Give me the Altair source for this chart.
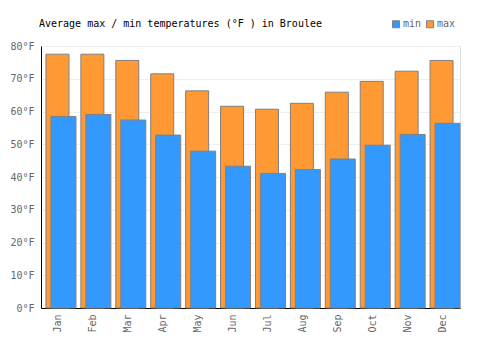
import altair as alt
import pandas as pd

months = ["Jan", "Feb", "Mar", "Apr", "May", "Jun", "Jul", "Aug", "Sep", "Oct", "Nov", "Dec"]
max_temps = [77.5, 77.5, 75.6, 71.5, 66.3, 61.6, 60.7, 62.5, 65.9, 69.2, 72.3, 75.6]
min_temps = [58.5, 59.1, 57.4, 52.8, 47.9, 43.3, 41.1, 42.3, 45.5, 49.7, 53.0, 56.4]
title_text = ["Average max / min temperatures (°F ) in Broulee"]

rows = []
for m, v in zip(months, max_temps):
    rows.append({"month": m, "type": "max", "value": v})
for m, v in zip(months, min_temps):
    rows.append({"month": m, "type": "min", "value": v})
df = pd.DataFrame(rows)

FONT = "DejaVu Sans Mono"

color = alt.Color(
    "type:N",
    scale=alt.Scale(domain=["min", "max"], range=["#3399ff", "#ff9933"]),
    legend=alt.Legend(
        title=None,
        orient="none",
        legendX=350,
        legendY=-27,
        direction="horizontal",
        symbolType="square",
        symbolSize=49,
        symbolStrokeColor="#808080",
        symbolStrokeWidth=1,
        labelFont=FONT,
        labelFontSize=10,
        labelColor="#666666",
        labelOffset=2,
        columnPadding=2,
        symbolOffset=0,
        padding=0,
    ),
)

x = alt.X(
    "month:N",
    sort=months,
    title=None,
    scale=alt.Scale(paddingInner=0, paddingOuter=0),
    axis=alt.Axis(
        labelAngle=270,
        labelAlign="right",
        labelBaseline="middle",
        labelPadding=6,
        ticks=False,
        domainColor="#000000",
        gridColor="#eeeeee",
        bandPosition=0,
        labelFont=FONT,
        labelFontSize=10,
        labelColor="#666666",
    ),
)

y = alt.Y(
    "value:Q",
    title=None,
    scale=alt.Scale(domain=[0, 80], nice=False),
    axis=alt.Axis(
        values=[0, 10, 20, 30, 40, 50, 60, 70, 80],
        labelExpr="datum.value + '°F'",
        ticks=False,
        labelPadding=7,
        domainColor="#000000",
        gridColor="#eeeeee",
        labelFont=FONT,
        labelFontSize=10,
        labelColor="#666666",
    ),
)

max_layer = alt.Chart(df).transform_filter("datum.type == 'max'").mark_bar(
    width=23, xOffset=-1, stroke="#808080", strokeWidth=1, opacity=1
).encode(x=x, y=y, color=color)

min_layer = alt.Chart(df).transform_filter("datum.type == 'min'").mark_bar(
    width=25, xOffset=5, stroke="#808080", strokeWidth=1, opacity=1
).encode(x=x, y=y, color=color)

title_layer = alt.Chart(pd.DataFrame({"t": title_text})).mark_text(
    align="left", baseline="alphabetic", font=FONT, fontSize=10, color="#000000"
).encode(x=alt.value(-2), y=alt.value(-19), text="t:N")

chart = (
    alt.layer(max_layer, min_layer, title_layer)
    .properties(
        width=419,
        height=262,
        autosize=alt.AutoSizeParams(type="none"),
        padding={"left": 41, "top": 46, "right": 40, "bottom": 42},
    )
    .configure_view(stroke="#eeeeee")
    .configure(background="#ffffff")
)

chart.save("out.html", embed_options={"renderer": "svg", "actions": False})
